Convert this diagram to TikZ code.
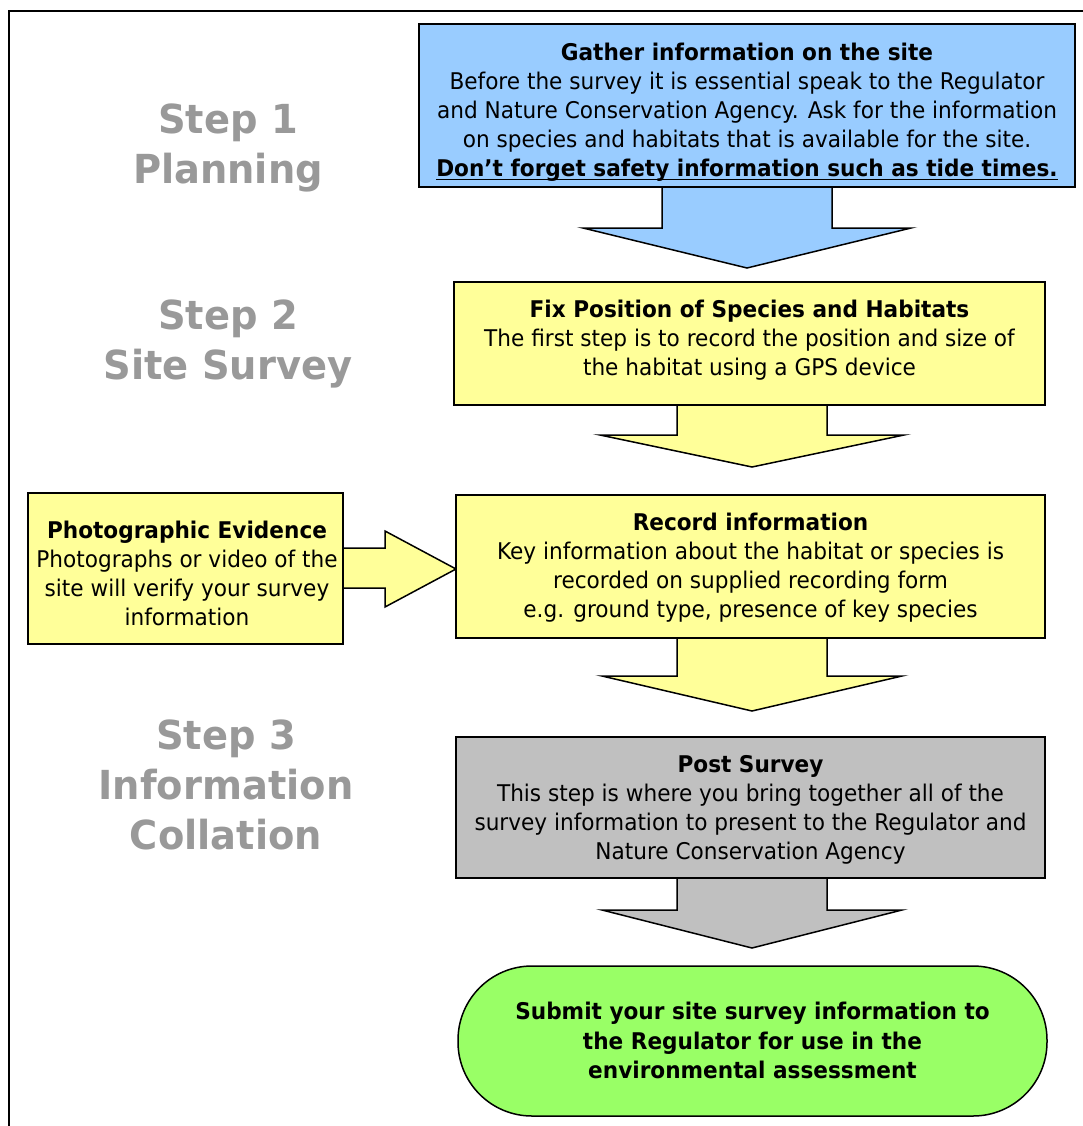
\documentclass[tikz,border=0pt]{standalone}
\usepackage{fontspec}
\setmainfont{DejaVu Sans}[FakeStretch=0.94]
\newfontfamily\stepfont{DejaVu Sans}[FakeStretch=0.96]
\usetikzlibrary{calc}
\definecolor{boxblue}{HTML}{99CCFF}
\definecolor{boxyellow}{HTML}{FFFF99}
\definecolor{boxgray}{HTML}{C0C0C0}
\definecolor{boxgreen}{HTML}{99FF66}
\definecolor{steptext}{HTML}{999999}
\newcommand{\thickul}[1]{\setbox0=\hbox{#1}\leavevmode\rlap{\raisebox{-4pt}{\rule{\wd0}{1.6pt}}}\box0}
\begin{document}
\begin{tikzpicture}[x=1pt,y=-1pt,
  every node/.style={inner sep=0pt, outer sep=0pt},
  stepbox/.style={draw=black, line width=1.5pt, align=center,
    font=\fontsize{23}{29}\selectfont},
  blockarrow/.style={draw=black, line width=1.5pt, line join=miter},
  steplabel/.style={align=center, text=steptext,
    font=\stepfont\bfseries\fontsize{40}{50}\selectfont}]
\useasboundingbox (0,0) rectangle (1083,1126);
% frame
\draw[line width=1.5pt] (9,1130) -- (9,11) -- (1090,11);
% step labels
\node[steplabel] (s1) at (228,148) {Step 1\\Planning};
\node[steplabel] (s2) at (228,344) {Step 2\\Site Survey};
\node[steplabel] (s3) at (226,785) {Step 3\\Information\\Collation};
% block arrows (drawn first)
\coordinate (ba) at (747,187);
\draw[blockarrow, fill=boxblue] ($(ba)+(-85,0)$) -- ($(ba)+(-85,41)$) -- ($(ba)+(-164,41)$)
  -- ($(ba)+(0,81)$) -- ($(ba)+(164,41)$) -- ($(ba)+(85,41)$) -- ($(ba)+(85,0)$);
\coordinate (fa) at (752,405);
\draw[blockarrow, fill=boxyellow] ($(fa)+(-75,0)$) -- ($(fa)+(-75,30)$) -- ($(fa)+(-152,30)$)
  -- ($(fa)+(0,62)$) -- ($(fa)+(152,30)$) -- ($(fa)+(75,30)$) -- ($(fa)+(75,0)$);
\coordinate (ra) at (752,638);
\draw[blockarrow, fill=boxyellow] ($(ra)+(-75,0)$) -- ($(ra)+(-75,38)$) -- ($(ra)+(-150,38)$)
  -- ($(ra)+(0,73)$) -- ($(ra)+(150,38)$) -- ($(ra)+(75,38)$) -- ($(ra)+(75,0)$);
\coordinate (pa) at (752,878);
\draw[blockarrow, fill=boxgray] ($(pa)+(-75,0)$) -- ($(pa)+(-75,32)$) -- ($(pa)+(-150,32)$)
  -- ($(pa)+(0,70)$) -- ($(pa)+(150,32)$) -- ($(pa)+(75,32)$) -- ($(pa)+(75,0)$);
\coordinate (ha) at (343,568);
\draw[blockarrow, fill=boxyellow] ($(ha)+(0,-20)$) -- ($(ha)+(42,-20)$) -- ($(ha)+(42,-37)$)
  -- ($(ha)+(113,1)$) -- ($(ha)+(42,39)$) -- ($(ha)+(42,20)$) -- ($(ha)+(0,20)$);
% boxes
\node[stepbox, fill=boxblue, minimum width=656pt, minimum height=163pt] (gather) at (747,105.5) {};
\node[align=center, font=\fontsize{23}{29}\selectfont] (gathertext) at (747,112)
  {\textbf{Gather information on the site}\\
   Before the survey it is essential speak to the Regulator\\
   and Nature Conservation Agency. Ask for the information\\
   on species and habitats that is available for the site.\\
   \textbf{\thickul{Don’t forget safety information such as tide times.}}};
\node[stepbox, fill=boxyellow, minimum width=591pt, minimum height=123pt] (fix) at (749.5,343.5) {};
\node[align=center, font=\fontsize{23}{29}\selectfont] (fixtext) at (749.5,340)
  {\textbf{Fix Position of Species and Habitats}\\
   The first step is to record the position and size of\\
   the habitat using a GPS device};
\node[stepbox, fill=boxyellow, minimum width=589pt, minimum height=143pt] (record) at (750.5,566.5) {};
\node[align=center, font=\fontsize{23}{29}\selectfont] (recordtext) at (750.5,567.5)
  {\textbf{Record information}\\
   Key information about the habitat or species is\\
   recorded on supplied recording form\\
   e.g. ground type, presence of key species};
\node[stepbox, fill=boxyellow, minimum width=315pt, minimum height=151pt] (photo) at (185.5,568.5) {};
\node[align=center, font=\fontsize{23}{29}\selectfont] (phototext) at (187,573)
  {\textbf{Photographic Evidence}\\
   Photographs or video of the\\
   site will verify your survey\\
   information};
\node[stepbox, fill=boxgray, minimum width=589pt, minimum height=141pt] (post) at (750.5,807.5) {};
\node[align=center, font=\fontsize{23}{29}\selectfont] (posttext) at (750.5,809.5)
  {\textbf{Post Survey}\\
   This step is where you bring together all of the\\
   survey information to present to the Regulator and\\
   Nature Conservation Agency};
\node[stepbox, fill=boxgreen, rounded corners=74pt, minimum width=589pt, minimum height=150pt] (submit) at (752.5,1041) {};
\node[align=center, font=\bfseries\fontsize{23}{29.5}\selectfont] (submittext) at (752.5,1040.5)
  {Submit your site survey information to\\
   the Regulator for use in the\\
   environmental assessment};
\end{tikzpicture}
\end{document}
